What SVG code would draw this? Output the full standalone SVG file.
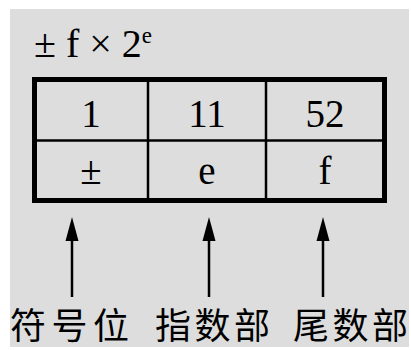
<svg xmlns="http://www.w3.org/2000/svg" width="411" height="350" viewBox="0 0 411 350">
<defs>
<style>
.t{font-family:"Liberation Serif","Times New Roman",serif;fill:#000}
.c{font-family:"Noto Sans CJK SC",sans-serif;font-size:36px;fill:#000}
.cell{font-size:39px;text-anchor:middle}
.sh{stroke:#000;stroke-width:2.5;fill:none}
</style>
</defs>
<rect x="0" y="0" width="411" height="350" fill="#ffffff"/>
<rect x="10" y="9" width="399" height="338" fill="#dddddd"/>
<text class="t" x="34" y="57" font-size="40">± f × 2<tspan font-size="23" dy="-14">e</tspan></text>
<g id="table">
<rect x="34.5" y="79.5" width="350" height="121" fill="none" stroke="#000" stroke-width="5"/>
<line x1="34.5" y1="140.5" x2="384.5" y2="140.5" stroke="#000" stroke-width="2.5"/>
<line x1="148" y1="79.5" x2="148" y2="200.5" stroke="#000" stroke-width="2.5"/>
<line x1="266" y1="79.5" x2="266" y2="200.5" stroke="#000" stroke-width="2.5"/>
<text class="t cell" x="91" y="127">1</text>
<text class="t cell" x="207" y="127">11</text>
<text class="t cell" x="325" y="127">52</text>
<text class="t cell" x="91" y="184">±</text>
<text class="t cell" x="207" y="184">e</text>
<text class="t cell" x="325" y="184">f</text>
</g>
<g id="connectors">
<line class="sh" x1="72" y1="297" x2="72" y2="238"/>
<polygon points="72,217 65.5,241 78.5,241" fill="#000"/>
<line class="sh" x1="209" y1="297" x2="209" y2="238"/>
<polygon points="209,217 202.5,241 215.5,241" fill="#000"/>
<line class="sh" x1="323" y1="297" x2="323" y2="238"/>
<polygon points="323,217 316.5,241 329.5,241" fill="#000"/>
</g>
<g id="n-sign"><text class="c" x="10" y="339" textLength="119">符号位</text></g>
<g id="n-exp"><text class="c" x="155" y="339" textLength="115">指数部</text></g>
<g id="n-frac"><text class="c" x="293" y="339" textLength="115">尾数部</text></g>
</svg>
